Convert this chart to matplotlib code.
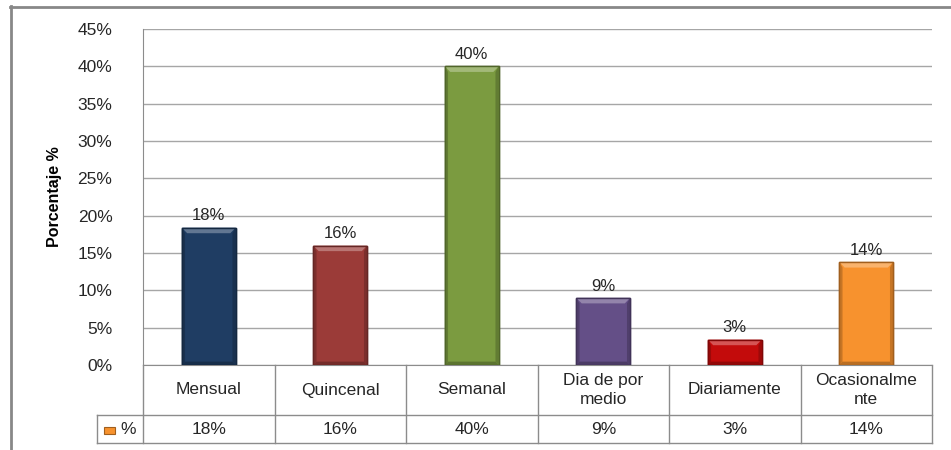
import matplotlib
matplotlib.use("Agg")
import matplotlib.pyplot as plt
from matplotlib.colors import to_rgb
from matplotlib.lines import Line2D
from matplotlib.patches import Polygon, Rectangle

plt.rcParams['font.family'] = ['Liberation Sans', 'DejaVu Sans']

categories = ["Mensual", "Quincenal", "Semanal", "Dia de por\nmedio", "Diariamente", "Ocasionalme\nnte"]
values = [18.4, 16.0, 40.0, 9.0, 3.4, 13.8]
colors = ["#1F3D63", "#9B3B38", "#7B9B40", "#644F87", "#C30B0B", "#F7922E"]
series_name = "%"
yticks = [0, 5, 10, 15, 20, 25, 30, 35, 40, 45]

grid_col = "#A6A6A6"
line_col = "#8C8C8C"
text_col = "#262626"


def shade(c, f):
    r, g, b = to_rgb(c)
    if f >= 0:
        return (r + (1 - r) * f, g + (1 - g) * f, b + (1 - b) * f)
    return (r * (1 + f), g * (1 + f), b * (1 + f))


W, H = 951, 450
fig = plt.figure(figsize=(W / 100, H / 100), dpi=100)

# chart area frame (left and top edges)
fig.add_artist(Line2D([10.5 / W, 10.5 / W], [0, 1 - 6 / H], color="#888888", lw=2))
fig.add_artist(Line2D([10 / W, 1], [1 - 6.5 / H, 1 - 6.5 / H], color="#888888", lw=2))

ax = fig.add_axes([143 / W, 1 - 365 / H, (932 - 143) / W, (365 - 29) / H])
n = len(categories)
xs = [i + 0.5 for i in range(n)]
ax.set_xlim(0, n)
ax.set_ylim(0, 45)
ax.set_yticks(yticks)
ax.set_yticklabels([f"{t}%" for t in yticks], fontsize=12.5, color=text_col)
ax.set_xticks([])
ax.tick_params(axis="y", length=0, pad=22)
ax.yaxis.grid(True, color=grid_col, lw=1)
ax.set_axisbelow(True)
for s in ("top", "right"):
    ax.spines[s].set_visible(False)
for s in ("left", "bottom"):
    ax.spines[s].set_color(line_col)
ax.set_ylabel("Porcentaje %", fontsize=11.5, fontweight="bold", labelpad=0)
ax.yaxis.set_label_coords(-(143 - 62) / (932 - 143), 0.5)

bars = ax.bar(xs, values, width=0.41, color=colors, edgecolor=[shade(c, -0.35) for c in colors], lw=1, zorder=3)

# bevel: light top band and darker sides
bev_y = 0.75
for b, c in zip(bars, colors):
    x0, w, h = b.get_x(), b.get_width(), b.get_height()
    ins = w * 0.1
    bh = min(bev_y, h * 0.3)
    ax.add_patch(Polygon([(x0, h), (x0 + w, h), (x0 + w - ins, h - bh), (x0 + ins, h - bh)],
                         closed=True, fc=shade(c, 0.3), ec="none", zorder=4))
    ax.add_patch(Polygon([(x0, 0), (x0 + ins * 0.6, bh * 0.6), (x0 + ins * 0.6, h - bh), (x0, h)],
                         closed=True, fc=shade(c, -0.2), ec="none", zorder=4))
    ax.add_patch(Polygon([(x0 + w, 0), (x0 + w - ins * 0.6, bh * 0.6), (x0 + w - ins * 0.6, h - bh), (x0 + w, h)],
                         closed=True, fc=shade(c, -0.2), ec="none", zorder=4))
    ax.add_patch(Polygon([(x0, 0), (x0 + w, 0), (x0 + w - ins * 0.6, bh * 0.6), (x0 + ins * 0.6, bh * 0.6)],
                         closed=True, fc=shade(c, -0.25), ec="none", zorder=4))
    ax.add_patch(Rectangle((x0, 0), w, h, fc="none", ec=shade(c, -0.35), lw=1, zorder=5))

for x, v in zip(xs, values):
    ax.annotate(f"{v:.0f}%", (x, v), xytext=(0, 3), textcoords="offset points",
                ha="center", va="bottom", fontsize=12, color=text_col)

# data table under the plot
tax = fig.add_axes([97 / W, 1 - 443 / H, (932 - 97) / W, (443 - 365) / H])
colw = (932 - 143) / n
left = -46 / colw
tax.set_xlim(left, n)
tax.set_ylim(0, 1)
tax.axis("off")
split = 28 / 78
kw = dict(color=line_col, lw=1, clip_on=False)
tax.plot([left, n], [0, 0], **kw)
tax.plot([left, n], [split, split], **kw)
tax.plot([left, left], [0, split], **kw)
for i in range(n + 1):
    tax.plot([i, i], [0, 1], **kw)
for x, cat, v in zip(xs, categories, values):
    tax.text(x, (split + 1) / 2, cat, ha="center", va="center", fontsize=12.5,
             color=text_col, linespacing=1.3)
    tax.text(x, split / 2, f"{v:.0f}%", ha="center", va="center", fontsize=12.5, color=text_col)

key_x = left + 7 / colw
tax.add_patch(Rectangle((key_x, 0.12), 11 / colw, 0.09, fc=colors[-1], ec=shade(colors[-1], -0.35), lw=0.8))
tax.text(left + 31 / colw, split / 2, series_name, ha="center", va="center", fontsize=12.5, color=text_col)

fig.savefig("out.png", dpi=100)
